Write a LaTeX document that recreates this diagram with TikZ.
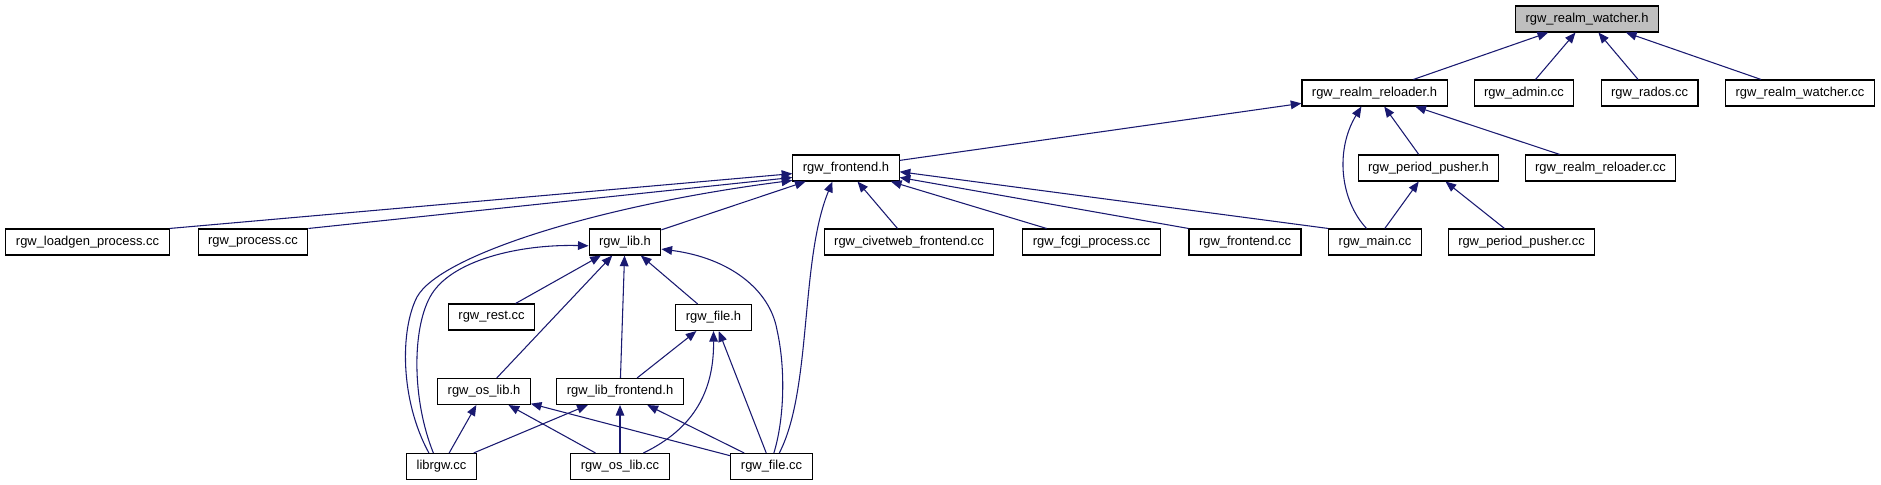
\documentclass[tikz,border=0pt]{standalone}
\usepackage{fontspec}
\setmainfont{Liberation Sans}
\usepackage{xcolor}
\usepackage{tikz}
\usetikzlibrary{arrows.meta}
\definecolor{doxyblue}{RGB}{25,25,112}
\definecolor{doxygray}{RGB}{191,191,191}

\begin{document}
\begin{tikzpicture}[x=0.75pt, y=-0.75pt,
  box/.style={draw=black, line width=0.8pt, fill=white, minimum height=19.5pt,
    inner xsep=7.5pt, inner ysep=0pt, font=\fontsize{9.7}{11}\selectfont},
  edge/.style={-{Triangle[length=8pt,width=6.5pt]}, doxyblue, line width=0.8pt}]
  \useasboundingbox (0,0) rectangle (1881,485);
  % header that everything hangs from
  \node[box, fill=doxygray] (watcherh) at (1587,19) {rgw\_realm\_watcher.h};
  % second row
  \node[box] (reloaderh) at (1374.5,93) {rgw\_realm\_reloader.h};
  \node[box] (admin) at (1524,93) {rgw\_admin.cc};
  \node[box] (rados) at (1649.5,93) {rgw\_rados.cc};
  \node[box] (watchercc) at (1800,93) {rgw\_realm\_watcher.cc};
  % third row
  \node[box] (frontendh) at (846,168) {rgw\_frontend.h};
  \node[box] (pusherh) at (1428.5,168) {rgw\_period\_pusher.h};
  \node[box] (reloadercc) at (1600.5,168) {rgw\_realm\_reloader.cc};
  % fourth row
  \node[box] (loadgen) at (87.5,242) {rgw\_loadgen\_process.cc};
  \node[box] (process) at (253,242) {rgw\_process.cc};
  \node[box] (libh) at (625,242) {rgw\_lib.h};
  \node[box] (civetweb) at (909,242) {rgw\_civetweb\_frontend.cc};
  \node[box] (fcgi) at (1091.5,242) {rgw\_fcgi\_process.cc};
  \node[box] (frontendcc) at (1245,242) {rgw\_frontend.cc};
  \node[box] (maincc) at (1375,242) {rgw\_main.cc};
  \node[box] (pushercc) at (1521.5,242) {rgw\_period\_pusher.cc};
  % lower rows
  \node[box] (rest) at (491.5,317) {rgw\_rest.cc};
  \node[box] (fileh) at (713.5,317.5) {rgw\_file.h};
  \node[box] (oslibh) at (484,391.5) {rgw\_os\_lib.h};
  \node[box] (libfeh) at (620,391.5) {rgw\_lib\_frontend.h};
  \node[box] (librgw) at (441.5,466.5) {librgw.cc};
  \node[box] (oslibcc) at (620,466.5) {rgw\_os\_lib.cc};
  \node[box] (filecc) at (771.5,466.5) {rgw\_file.cc};

  % straight includes
  \foreach \src/\dst in {reloaderh/watcherh, admin/watcherh, rados/watcherh,
      watchercc/watcherh, frontendh/reloaderh, pusherh/reloaderh,
      reloadercc/reloaderh, maincc/pusherh, pushercc/pusherh,
      libh/frontendh, civetweb/frontendh, fcgi/frontendh,
      rest/libh, oslibh/libh, libfeh/libh, fileh/libh,
      libfeh/fileh, filecc/fileh,
      librgw/oslibh, oslibcc/oslibh, filecc/oslibh,
      librgw/libfeh, oslibcc/libfeh, filecc/libfeh}
    \draw[edge] (\src) -- (\dst);
  % long ones that leave from a corner
  \draw[edge] (loadgen.north east) -- (frontendh.186);
  \draw[edge] (process.north east) -- (frontendh.190);
  \draw[edge] (frontendcc.north west) -- (frontendh.350);
  \draw[edge] (maincc.north west) -- (frontendh.356);

  % curved includes
  \draw[edge] (maincc.122) .. controls (1340,200) and (1335,150) .. (reloaderh.226);
  \draw[edge] (librgw.133) .. controls (400,400) and (400,330) .. (417,297)
    .. controls (440,255) and (600,205) .. (frontendh.193);
  \draw[edge] (librgw.121) .. controls (412,400) and (412,330) .. (430,297)
    .. controls (450,260) and (520,244) .. (libh.186);
  \draw[edge] (filecc.60) .. controls (812,390) and (800,260) .. (frontendh.225);
  \draw[edge] (filecc.80) .. controls (784,420) and (786,370) .. (777,330)
    .. controls (770,290) and (730,258) .. (libh.349);
  \draw[edge] (oslibcc.30) .. controls (695,428) and (714,390) .. (fileh.south);
\end{tikzpicture}
\end{document}
